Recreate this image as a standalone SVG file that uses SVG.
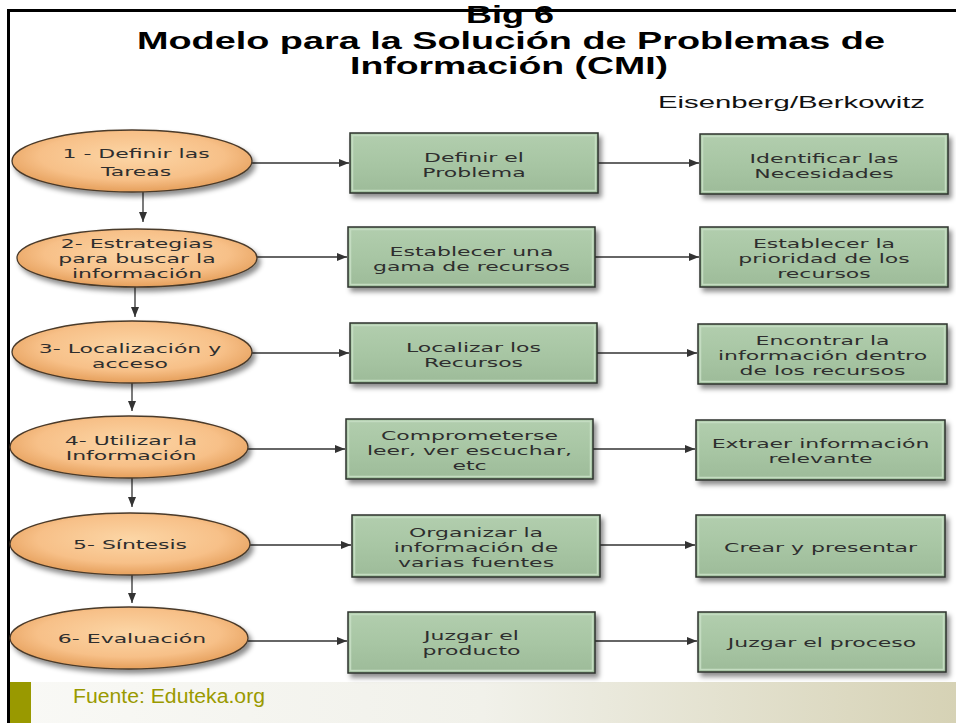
<svg xmlns="http://www.w3.org/2000/svg" width="956" height="723" viewBox="0 0 956 723">
<defs>
<style>
.title{font-family:"Liberation Sans",Arial,sans-serif;font-weight:bold;font-size:23px;fill:#000;text-anchor:middle}
.auth{font-family:"Liberation Sans",Arial,sans-serif;font-size:16.5px;fill:#111}
.nt{font-family:"DejaVu Sans",Verdana,sans-serif;font-size:13px;fill:#2e2e2e;text-anchor:middle}
.ell{fill:url(#gO);stroke:#4a3a2a;stroke-width:1.3;filter:url(#sh)}
.box{fill:url(#gG);stroke:#2c332c;stroke-width:1.5;filter:url(#sh)}
.bev{fill:none;stroke:#c4dcc1;stroke-width:1.5}
.con{stroke:#333;stroke-width:1.3;fill:none;marker-end:url(#ah)}
.src{font-family:"Liberation Sans",Arial,sans-serif;font-size:19.5px;fill:#9a9a00}
</style>
<radialGradient id="gO" cx="50%" cy="42%" r="55%">
<stop offset="0" stop-color="#fcd6a6"/>
<stop offset="0.7" stop-color="#f7c088"/>
<stop offset="1" stop-color="#e8a462"/>
</radialGradient>
<linearGradient id="gG" x1="0" y1="0" x2="0" y2="1">
<stop offset="0" stop-color="#b2ceae"/>
<stop offset="0.5" stop-color="#a8c6a4"/>
<stop offset="1" stop-color="#9dbb99"/>
</linearGradient>
<linearGradient id="gB" x1="0" y1="0" x2="1" y2="0">
<stop offset="0" stop-color="#f9f9f6"/>
<stop offset="0.5" stop-color="#f1f1ea"/>
<stop offset="1" stop-color="#d6d2b5"/>
</linearGradient>
<filter id="sh" x="-10%" y="-20%" width="125%" height="150%">
<feDropShadow dx="3" dy="4" stdDeviation="2.5" flood-color="#000" flood-opacity="0.45"/>
</filter>
<marker id="ah" markerWidth="11" markerHeight="9" refX="10" refY="4" orient="auto" markerUnits="userSpaceOnUse">
<path d="M0,0 L10,4 L0,8 Z" fill="#333"/>
</marker>
</defs>
<rect x="0" y="0" width="956" height="723" fill="#fff"/>

<g id="title">
<text class="title" x="510" y="23" textLength="88" lengthAdjust="spacingAndGlyphs">Big 6</text>
<text class="title" x="511" y="49" textLength="748" lengthAdjust="spacingAndGlyphs">Modelo para la Solución de Problemas de</text>
<text class="title" x="509" y="74" textLength="318" lengthAdjust="spacingAndGlyphs">Información (CMI)</text>
<text class="auth" x="658" y="108" textLength="267" lengthAdjust="spacingAndGlyphs">Eisenberg/Berkowitz</text>
</g>

<g id="frame">
<rect x="10" y="682" width="946" height="41" fill="url(#gB)"/>
<rect x="10" y="682" width="21" height="41" fill="#999900"/>
<line x1="7" y1="10.5" x2="956" y2="10.5" stroke="#000" stroke-width="3"/>
<line x1="8.5" y1="9" x2="8.5" y2="723" stroke="#000" stroke-width="3"/>
<text class="src" x="73" y="703" textLength="192" lengthAdjust="spacingAndGlyphs">Fuente: Eduteka.org</text>
</g>

<g id="connectors">
<line class="con" x1="143" y1="192" x2="143" y2="222"/>
<line class="con" x1="135" y1="287" x2="135" y2="317"/>
<line class="con" x1="132" y1="383" x2="132" y2="411"/>
<line class="con" x1="132" y1="478" x2="132" y2="507"/>
<line class="con" x1="132" y1="575" x2="132" y2="603"/>
<line class="con" x1="252" y1="163" x2="349" y2="163"/>
<line class="con" x1="598" y1="163" x2="699" y2="163"/>
<line class="con" x1="257" y1="257" x2="347" y2="257"/>
<line class="con" x1="595" y1="257" x2="699" y2="257"/>
<line class="con" x1="252" y1="353" x2="349" y2="353"/>
<line class="con" x1="597" y1="353" x2="697" y2="353"/>
<line class="con" x1="248" y1="449" x2="345" y2="449"/>
<line class="con" x1="593" y1="449" x2="695" y2="449"/>
<line class="con" x1="250" y1="545" x2="351" y2="545"/>
<line class="con" x1="600" y1="545" x2="695" y2="545"/>
<line class="con" x1="248" y1="641" x2="347" y2="641"/>
<line class="con" x1="595" y1="641" x2="697" y2="641"/>
</g>

<g id="e1">
<ellipse class="ell" cx="132" cy="161" rx="120" ry="31"/>
<text class="nt" transform="translate(136 0) scale(1.69 1)"><tspan x="0" y="158">1 - Definir las</tspan><tspan x="0" y="176">Tareas</tspan></text>
</g>
<g id="e2">
<ellipse class="ell" cx="137" cy="258" rx="120" ry="29"/>
<text class="nt" transform="translate(137 0) scale(1.69 1)"><tspan x="0" y="248">2- Estrategias</tspan><tspan x="0" y="263">para buscar la</tspan><tspan x="0" y="278">información</tspan></text>
</g>
<g id="e3">
<ellipse class="ell" cx="132" cy="352" rx="120" ry="31"/>
<text class="nt" transform="translate(130 0) scale(1.69 1)"><tspan x="0" y="353">3- Localización y</tspan><tspan x="0" y="368">acceso</tspan></text>
</g>
<g id="e4">
<ellipse class="ell" cx="129" cy="447" rx="119" ry="31"/>
<text class="nt" transform="translate(131 0) scale(1.69 1)"><tspan x="0" y="445">4- Utilizar la</tspan><tspan x="0" y="460">Información</tspan></text>
</g>
<g id="e5">
<ellipse class="ell" cx="130" cy="544" rx="120" ry="31"/>
<text class="nt" transform="translate(130 0) scale(1.69 1)"><tspan x="0" y="549">5- Síntesis</tspan></text>
</g>
<g id="e6">
<ellipse class="ell" cx="129" cy="638" rx="119" ry="31"/>
<text class="nt" transform="translate(132 0) scale(1.69 1)"><tspan x="0" y="643">6- Evaluación</tspan></text>
</g>

<g id="b11">
<rect class="box" x="350" y="133" width="248" height="60"/>
<rect class="bev" x="352.5" y="135.5" width="243" height="55"/>
<text class="nt" transform="translate(474 0) scale(1.69 1)"><tspan x="0" y="162">Definir el</tspan><tspan x="0" y="177">Problema</tspan></text>
</g>
<g id="b12">
<rect class="box" x="700" y="134" width="248" height="60"/>
<rect class="bev" x="702.5" y="136.5" width="243" height="55"/>
<text class="nt" transform="translate(824 0) scale(1.69 1)"><tspan x="0" y="163">Identificar las</tspan><tspan x="0" y="178">Necesidades</tspan></text>
</g>
<g id="b21">
<rect class="box" x="348" y="227" width="247" height="60"/>
<rect class="bev" x="350.5" y="229.5" width="242" height="55"/>
<text class="nt" transform="translate(471.5 0) scale(1.69 1)"><tspan x="0" y="256">Establecer una</tspan><tspan x="0" y="271">gama de recursos</tspan></text>
</g>
<g id="b22">
<rect class="box" x="700" y="227" width="248" height="60"/>
<rect class="bev" x="702.5" y="229.5" width="243" height="55"/>
<text class="nt" transform="translate(824 0) scale(1.69 1)"><tspan x="0" y="248">Establecer la</tspan><tspan x="0" y="263">prioridad de los</tspan><tspan x="0" y="278">recursos</tspan></text>
</g>
<g id="b31">
<rect class="box" x="350" y="323" width="247" height="60"/>
<rect class="bev" x="352.5" y="325.5" width="242" height="55"/>
<text class="nt" transform="translate(473.5 0) scale(1.69 1)"><tspan x="0" y="352">Localizar los</tspan><tspan x="0" y="367">Recursos</tspan></text>
</g>
<g id="b32">
<rect class="box" x="698" y="324" width="249" height="60"/>
<rect class="bev" x="700.5" y="326.5" width="244" height="55"/>
<text class="nt" transform="translate(822.5 0) scale(1.69 1)"><tspan x="0" y="345">Encontrar la</tspan><tspan x="0" y="360">información dentro</tspan><tspan x="0" y="375">de los recursos</tspan></text>
</g>
<g id="b41">
<rect class="box" x="346" y="419" width="247" height="60"/>
<rect class="bev" x="348.5" y="421.5" width="242" height="55"/>
<text class="nt" transform="translate(469.5 0) scale(1.69 1)"><tspan x="0" y="440">Comprometerse</tspan><tspan x="0" y="455">leer, ver escuchar,</tspan><tspan x="0" y="470">etc</tspan></text>
</g>
<g id="b42">
<rect class="box" x="696" y="420" width="249" height="60"/>
<rect class="bev" x="698.5" y="422.5" width="244" height="55"/>
<text class="nt" transform="translate(820.5 0) scale(1.69 1)"><tspan x="0" y="448">Extraer información</tspan><tspan x="0" y="463">relevante</tspan></text>
</g>
<g id="b51">
<rect class="box" x="352" y="515" width="248" height="62"/>
<rect class="bev" x="354.5" y="517.5" width="243" height="57"/>
<text class="nt" transform="translate(476 0) scale(1.69 1)"><tspan x="0" y="537">Organizar la</tspan><tspan x="0" y="552">información de</tspan><tspan x="0" y="567">varias fuentes</tspan></text>
</g>
<g id="b52">
<rect class="box" x="696" y="515" width="249" height="62"/>
<rect class="bev" x="698.5" y="517.5" width="244" height="57"/>
<text class="nt" transform="translate(820.5 0) scale(1.69 1)"><tspan x="0" y="552">Crear y presentar</tspan></text>
</g>
<g id="b61">
<rect class="box" x="348" y="612" width="247" height="61"/>
<rect class="bev" x="350.5" y="614.5" width="242" height="56"/>
<text class="nt" transform="translate(471.5 0) scale(1.69 1)"><tspan x="0" y="640">Juzgar el</tspan><tspan x="0" y="655">producto</tspan></text>
</g>
<g id="b62">
<rect class="box" x="698" y="612" width="248" height="60"/>
<rect class="bev" x="700.5" y="614.5" width="243" height="55"/>
<text class="nt" transform="translate(822 0) scale(1.69 1)"><tspan x="0" y="647">Juzgar el proceso</tspan></text>
</g>
</svg>
